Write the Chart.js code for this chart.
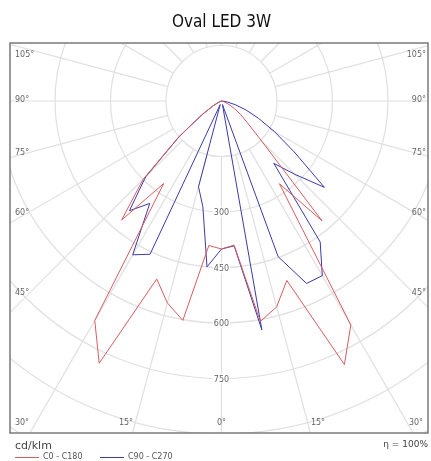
<!DOCTYPE html>
<html>
<head>
<meta charset="utf-8">
<script src="https://cdn.jsdelivr.net/npm/chart.js@4.4.1/dist/chart.umd.min.js"></script>
<style>
  html, body { margin: 0; padding: 0; background: #fff; }
  canvas { display: block; }
</style>
</head>
<body>
<canvas id="ldc" width="431" height="461"></canvas>
<script>
// gamma angles (deg from nadir) and intensities in cd/klm
const gammaAngles = [0, 5, 10, 15, 20, 25, 30, 35, 40, 45, 50, 55, 60, 65, 70, 75, 80, 85, 90];
const c0Values   = [400, 391, 605, 576, 516, 786, 699, 273, 423, 155, 91, 62, 40, 22, 10, 4, 1, 0, 0];
const c180Values = [400, 392, 602, 565, 512, 782, 685, 272, 420, 300, 150, 65, 28, 10, 3, 1, 0, 0, 0];
const c90Values  = [400, 393, 628, 10, 448, 544, 545, 465, 220, 280, 363, 240, 165, 110, 70, 38, 17, 5, 0];
const c270Values = [400, 450, 290, 240, 10, 457, 480, 338, 387, 290, 148, 62, 27, 10, 3, 1, 0, 0, 0];

// grid
const ringValues = [150, 300, 450, 600, 750, 900, 1050];
const ringLabels = [300, 450, 600, 750];
const spokeStep = 15;

const seriesNames = ["C0 - C180", "C90 - C270"];
const redColor = "rgb(214, 92, 96)";
const blueColor = "rgb(58, 58, 168)";

// left half (C180 / C270) goes from 90 down to 0, right half from 0 up to 90
function toPoints(leftVals, rightVals) {
    let pts = [];
    for (let i = gammaAngles.length - 1; i >= 0; i--) {
        let g = gammaAngles[i] * Math.PI / 180;
        pts.push({ x: -leftVals[i] * Math.sin(g), y: -leftVals[i] * Math.cos(g) });
    }
    for (let i = 1; i < gammaAngles.length; i++) {
        let g = gammaAngles[i] * Math.PI / 180;
        pts.push({ x: rightVals[i] * Math.sin(g), y: -rightVals[i] * Math.cos(g) });
    }
    return pts;
}

// ::::: polar grid drawn from the scales :::::
const polarGrid = {
    id: "polarGrid",
    beforeDatasetsDraw(chart) {
        const { ctx, chartArea: a, scales: { x, y } } = chart;
        const cx = x.getPixelForValue(0);
        const cy = y.getPixelForValue(0);
        const unit = x.getPixelForValue(1) - cx;
        ctx.save();
        ctx.beginPath();
        ctx.rect(a.left, a.top, a.right - a.left, a.bottom - a.top);
        ctx.clip();
        ctx.strokeStyle = "#e0e0e0";
        ctx.lineWidth = 1.2;
        ringValues.forEach(v => {
            ctx.beginPath();
            ctx.arc(cx, cy, v * unit, 0, Math.PI * 2);
            ctx.stroke();
        });
        for (let ang = 0; ang < 360; ang += spokeStep) {
            let t = ang * Math.PI / 180;
            let r0 = ringValues[0] * unit, r1 = 1400 * unit;
            ctx.beginPath();
            ctx.moveTo(cx + r0 * Math.sin(t), cy + r0 * Math.cos(t));
            ctx.lineTo(cx + r1 * Math.sin(t), cy + r1 * Math.cos(t));
            ctx.stroke();
        }
        ctx.restore();
    },
    afterDatasetsDraw(chart) {
        const { ctx, chartArea: a, scales: { x, y } } = chart;
        const cx = x.getPixelForValue(0);
        ctx.save();
        ctx.font = "8px 'DejaVu Sans'";
        ctx.textAlign = "center";
        ctx.textBaseline = "middle";
        ringLabels.forEach(v => {
            let py = y.getPixelForValue(-v);
            let w = ctx.measureText(String(v)).width;
            ctx.fillStyle = "#fff";
            ctx.fillRect(cx - w / 2 - 1, py - 5, w + 2, 10);
            ctx.fillStyle = "#666";
            ctx.fillText(String(v), cx, py + 1);
        });

        // angle labels along the frame
        const side = [["105°", 55], ["90°", 100], ["75°", 153], ["60°", 213], ["45°", 293]];
        ctx.textAlign = "left";
        side.forEach(s => ctx.fillText(s[0], a.left + 5, s[1]));
        ctx.textAlign = "right";
        side.forEach(s => ctx.fillText(s[0], a.right - 2, s[1]));
        ctx.textAlign = "center";
        [["30°", 22], ["15°", 126], ["0°", cx], ["15°", 318], ["30°", 416]].forEach(s => {
            ctx.fillText(s[0], s[1], a.bottom - 10);
        });

        // frame
        ctx.strokeStyle = "#7a7a7a";
        ctx.lineWidth = 1.5;
        ctx.strokeRect(a.left, a.top, a.right - a.left, a.bottom - a.top);

        // title
        ctx.fillStyle = "#111";
        ctx.font = "17px 'DejaVu Sans Condensed'";
        ctx.fillText("Oval LED 3W", cx, 23);

        // unit, legend, efficiency
        ctx.textAlign = "left";
        ctx.fillStyle = "#444";
        ctx.font = "11px 'DejaVu Sans'";
        ctx.fillText("cd/klm", 15, 446);
        ctx.font = "9px 'DejaVu Sans'";
        ctx.textAlign = "right";
        ctx.fillText("\u03b7 = 100%", 428, 445);
        ctx.textAlign = "left";
        ctx.font = "8px 'DejaVu Sans'";
        ctx.fillStyle = "#555";
        [[15, redColor], [100, blueColor]].forEach((l, i) => {
            ctx.strokeStyle = l[1];
            ctx.lineWidth = 1;
            ctx.beginPath();
            ctx.moveTo(l[0], 457.5);
            ctx.lineTo(l[0] + 24, 457.5);
            ctx.stroke();
            ctx.fillText(seriesNames[i], l[0] + 28, 457);
        });
        ctx.restore();
    }
};

const ctx = document.getElementById("ldc");
const ldcChart = new Chart(ctx, {
    type: "scatter",
    data: {
        datasets: [{
            label: seriesNames[0],
            data: toPoints(c180Values, c0Values),
            showLine: true,
            borderColor: redColor,
            borderWidth: 1,
            pointRadius: 0,
            tension: 0
        }, {
            label: seriesNames[1],
            data: toPoints(c270Values, c90Values),
            showLine: true,
            borderColor: blueColor,
            borderWidth: 1,
            pointRadius: 0,
            tension: 0
        }]
    },
    options: {
        responsive: false,
        animation: false,
        layout: {
            padding: { left: 10, top: 43, right: 3, bottom: 28 }
        },
        scales: {
            x: { display: false, min: -571.6, max: 558.1 },
            y: { display: false, min: -897.3, max: 156.8 }
        },
        plugins: {
            legend: { display: false },
            title: { display: false },
            tooltip: { enabled: false }
        }
    },
    plugins: [polarGrid]
});
</script>
</body>
</html>
